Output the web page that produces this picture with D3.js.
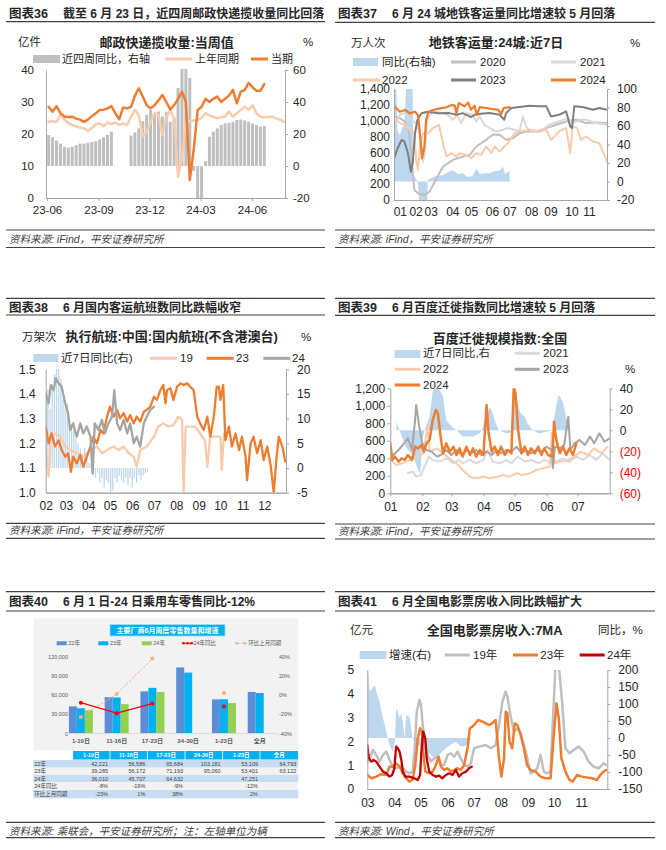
<!DOCTYPE html>
<html><head><meta charset="utf-8">
<script src="https://cdn.jsdelivr.net/npm/d3@7/dist/d3.min.js"></script>
<style>html,body{margin:0;padding:0;background:#fff;}</style>
</head><body>
<script>
// ================= DATA =================
// --- 图表36 邮政快递揽收量 (weekly, from 2023-06-04) ---
const p36Start = '2023-06-04';
const p36Bars = [19.4,18,16,14,12,11.5,12,13,14,14,14.5,15,15.5,16.6,18,19.4,21.5,null,null,null,null,19,21,23.5,28,32,35,33,34,31,34,27.7,30,48.7,62,62,55,-3,-22,-22,3,18.3,21.5,23.5,25.6,26.7,27,27.7,28.8,29,28.5,27.7,26.5,25.6,24.6,25];
const p36Current = [28.5,27,28.7,26.5,25.5,25.3,25.4,24.8,24.5,23.8,24.5,25.5,26.5,27.5,27.6,28,28.7,26.5,24.6,28.3,28,28.5,32,34.3,31.7,29,28,29,30.5,32.2,30,27.7,29,31,33.2,30,5.6,15,27.5,28.5,31,30,31,31.7,30,31,32,33.8,29.6,33.2,33.7,36,34.6,33.5,33.5,35.6];
const p36LastYear = [23.8,24,23.8,26,24.5,23.5,22.8,22.4,22,21.8,21,21.8,23.1,23.3,22.5,23.6,23.1,23.6,22.8,23.3,22.8,25.4,27.5,25.9,19.2,20.7,23.8,26.5,26,19.7,24.9,27.5,24.9,6.7,12.9,23.8,24,24.2,24.4,25,26.5,25.8,25.4,24.9,25.2,25.4,27,25.4,26.5,27.5,28.5,27.5,29,26.5,25.4,25.2,25.4,25.4,24.9,24.5,23.8];
const p36TickDates = ['2023-06-01','2023-09-01','2023-12-01','2024-03-01','2024-06-01'];
const p36TickLabels = ['23-06','23-09','23-12','24-03','24-06'];
const p36LeftTicks = [0,10,20,30,40];
const p36RightTicks = [-20,0,20,40,60];

// --- 图表37 地铁客运量 ([day of year, 万人次]) ---
const p37YoY = [[0,100],[2,112],[4,100],[6,55],[10,50],[14,58],[18,62],[21,105],[26,112],[32,108],[33,8],[37,3],[41,0],[43,-25],[50,-28],[57,-22],[58,2],[62,3],[67,5],[74,6],[84,7],[92,10],[101,12],[110,8],[118,9],[126,5],[135,6],[141,14],[147,8],[155,9],[164,9],[172,11],[181,12],[187,16],[190,8],[195,10],[198,12]];
const p37Y2020 = [[0,1054],[10,1033],[18,991],[26,843],[31,422],[35,127],[41,84],[52,63],[61,105],[70,232],[84,422],[101,506],[118,548],[130,569],[141,675],[158,759],[169,822],[181,822],[192,759],[204,780],[215,843],[226,864],[244,864],[261,907],[278,949],[295,991],[312,1012],[329,970],[346,978],[365,970]];
const p37Y2021 = [[0,970],[5,1009],[10,1075],[18,1096],[25,1040],[32,1000],[40,950],[45,800],[50,480],[53,600],[57,1000],[61,1075],[67,1117],[84,1096],[92,1075],[101,1012],[108,1075],[115,970],[124,1096],[135,1075],[141,991],[147,1054],[155,949],[164,907],[175,864],[187,886],[195,907],[207,886],[215,864],[221,1054],[226,928],[235,864],[249,864],[266,949],[283,991],[298,1033],[306,970],[318,1012],[329,1012],[346,970],[365,949]];
const p37Y2022 = [[0,1033],[10,970],[18,949],[27,886],[35,843],[38,506],[41,380],[45,717],[50,843],[58,843],[67,907],[77,949],[84,717],[90,548],[98,590],[107,548],[112,590],[124,569],[132,527],[141,590],[149,569],[158,675],[167,590],[172,675],[181,611],[189,675],[195,717],[207,843],[215,864],[232,886],[249,864],[261,886],[269,759],[275,801],[283,864],[295,907],[302,590],[306,928],[314,907],[320,759],[329,801],[341,738],[352,717],[359,590],[365,485]];
const p37Y2023 = [[0,520],[6,650],[13,757],[18,735],[24,589],[29,357],[32,463],[36,841],[40,1009],[47,1093],[58,1113],[75,1093],[95,1096],[107,1075],[118,1096],[132,1046],[138,1075],[149,1088],[164,1096],[181,1075],[189,1012],[192,1096],[201,1160],[215,1172],[232,1189],[249,1181],[261,1181],[269,1054],[283,1075],[295,1117],[302,928],[305,907],[309,1181],[323,1172],[341,1139],[352,1160],[365,1139]];
const p37Y2024 = [[0,1190],[5,1150],[10,1113],[19,1135],[27,1093],[36,1113],[41,1072],[44,883],[48,526],[52,672],[55,1009],[59,1113],[67,1135],[79,1156],[90,1169],[100,1200],[104,1190],[107,1096],[111,1223],[121,1181],[127,1231],[132,1139],[138,1189],[142,1075],[147,1172],[158,1160],[169,1147],[178,1139],[184,1088],[188,1160],[198,1172]];
const p37TickDays = [10,37,63,100,132,168,198,235,268,304,334];
const p37TickLabels = ['01','02','03','04','05','06','07','08','09','10','11'];
const p37LeftTicks = [0,200,400,600,800,1000,1200,1400];
const p37RightTicks = [-20,0,20,40,60,80,100];

// --- 图表38 执行航班 ([days from Feb 1, 万架次]) ---
const p38YoY = [14,16,12,17,19,22,21,18,14,12,13,10,8,9,6,5,4,3,4,2,1,0.5,-1.5,-2,-1,-3,-2,-4,-2.5,-3,-5,-4.5,-2,-3,-1.5,-2.5,-3,-2,-3.5,-2,-4,-2,-3,-1.5,-2.5,-1.5,-1,-0.8];
const p38Y19 = [[0,1.173],[4,1.065],[7,1.227],[13,1.24],[20,1.227],[27,1.187],[34,1.173],[43,1.16],[52,1.146],[62,1.173],[71,1.187],[78,1.16],[85,1.173],[94,1.187],[101,1.173],[108,1.187],[115,1.16],[122,1.146],[126,1.105],[131,1.173],[140,1.187],[150,1.227],[156,1.268],[163,1.281],[170,1.268],[177,1.274],[184,1.308],[189,1.295],[191,1.0],[194,1.268],[200,1.268],[207,1.268],[214,1.24],[221,1.207],[224,1.105],[228,1.227],[235,1.227],[242,1.227],[244,1.092],[247,1.24]];
const p38Y23 = [[0,1.268],[4,1.2],[8,1.24],[13,1.187],[18,1.213],[22,1.173],[27,1.146],[31,1.16],[35,1.085],[38,1.146],[43,1.119],[48,1.153],[52,1.105],[57,1.146],[62,1.187],[66,1.227],[71,1.2],[76,1.254],[80,1.24],[85,1.308],[89,1.349],[94,1.308],[99,1.335],[103,1.301],[108,1.322],[113,1.288],[117,1.315],[122,1.281],[126,1.308],[131,1.288],[136,1.328],[140,1.335],[145,1.349],[150,1.389],[154,1.376],[159,1.416],[163,1.436],[166,1.362],[168,1.416],[173,1.423],[177,1.376],[182,1.43],[187,1.443],[191,1.436],[196,1.443],[200,1.43],[205,1.416],[210,1.308],[214,1.281],[219,1.254],[224,1.308],[228,1.227],[233,1.308],[237,1.43],[240,1.43],[242,1.376],[246,1.436],[249,1.213],[254,1.268],[258,1.187],[263,1.24],[268,1.173],[272,1.227],[277,1.146],[279,1.051],[284,1.2],[288,1.227],[293,1.16],[298,1.213],[302,1.132],[307,1.187],[312,1.105],[316,1.0],[320,1.146],[323,1.227],[328,1.187],[332,1.126]];
const p38Y24 = [[0,1.403],[4,1.362],[7,1.436],[11,1.416],[14,1.464],[18,1.443],[22,1.43],[27,1.362],[31,1.322],[34,1.254],[38,1.281],[43,1.227],[48,1.281],[52,1.24],[57,1.268],[62,1.227],[65,1.078],[68,1.281],[73,1.254],[78,1.295],[82,1.24],[87,1.281],[92,1.308],[95,1.416],[99,1.281],[103,1.254],[108,1.295],[113,1.24],[117,1.281],[122,1.2],[126,1.227],[131,1.187],[136,1.281],[140,1.308],[145,1.335],[150,1.349]];
const p38TickDays = [0,28,59,89,120,150,181,212,242,273,303];
const p38TickLabels = ['02','03','04','05','06','07','08','09','10','11','12'];
const p38LeftTicks = [1.0,1.1,1.2,1.3,1.4,1.5];
const p38RightTicks = [-5,0,5,10,15,20];

// --- 图表39 百度迁徙规模指数 ([day of year, index]) ---
const p39YoY = [[5.8,8],[9,0],[15,-16],[22,-25],[27,-38],[29,-42],[31,-10],[33,0],[38,13],[41,38],[44,42],[48,38],[51,32],[54,9.5],[57,6],[60,3],[64,0],[70,-6],[80,-6],[86,-3],[89,1.6],[93,13],[96,22.5],[99,16],[102,6.3],[105,0],[112,-3],[118,-1.6],[120,40],[123,26],[126,16],[130,13],[133,6],[138,0],[144,-3],[150,-1.6],[157,0],[158.5,13],[162,32],[163,33.6],[167,26],[170,13],[173,0],[181,0]];
const p39Y2021 = [[17,229],[22,248],[25,190],[30,210],[33,305],[37,419],[41,381],[48,362],[54,400],[61,343],[66,381],[70,343],[77,381],[83,343],[90,381],[94,495],[99,362],[106,343],[112,381],[117,343],[123,419],[130,362],[136,381],[143,343],[149,381],[156,343],[160,362],[167,400],[173,362],[180,419],[186,381],[193,438],[199,381],[205,457],[212,381]];
const p39Y2022 = [[0,381],[6,324],[12,343],[19,381],[25,419],[32,457],[36,762],[38,476],[45,514],[51,457],[57,400],[64,343],[70,267],[77,190],[83,171],[90,190],[96,171],[103,190],[109,210],[115,190],[122,229],[128,210],[135,229],[141,267],[148,286],[154,305],[156,686],[159,343],[165,362],[172,381],[178,419],[184,476],[191,438],[197,514],[204,457],[210,533]];
const p39Y2023 = [[3,438],[8,495],[12,552],[17,629],[21,495],[24,838],[25,1010],[28,762],[31,571],[35,495],[40,476],[45,419],[49,438],[54,495],[59,438],[64,495],[69,438],[74,495],[78,457],[83,495],[88,438],[93,476],[98,438],[103,495],[107,457],[112,495],[117,476],[122,533],[127,457],[131,495],[136,457],[141,495],[146,476],[151,533],[156,495],[157,286],[159,533],[164,514],[168,552],[172,876],[174,495],[178,571],[183,610],[188,552],[193,648],[197,571],[202,686],[207,590],[212,629]];
const p39Y2024 = [[0,571],[2,381],[4.5,419],[8,362],[11,400],[14,381],[17,438],[21,381],[24,533],[27,514],[30,552],[32.5,476],[35,571],[38,610],[41,838],[44,952],[46,914],[48.6,648],[51,457],[54,571],[57.5,476],[61,533],[64,438],[67,514],[70,419],[73.6,533],[77,438],[80,514],[83,419],[86.5,495],[90,438],[93,1010],[95,686],[98,476],[101,533],[104,438],[107,533],[110.6,438],[114,495],[117,457],[119.3,1219],[121,1143],[123.5,724],[126.7,457],[130,533],[133,438],[136,514],[139.5,457],[143,533],[146,438],[149,514],[152.4,438],[156.6,419],[158.2,819],[160.4,610],[163.7,457],[167,533],[170,438],[173,514],[176.5,438],[179.7,571]];
const p39TickDays = [0,31,59,90,120,151,181];
const p39TickLabels = ['01','02','03','04','05','06','07'];
const p39LeftTicks = [0,200,400,600,800,1000,1200];
const p39RightTicks = [-60,-40,-20,0,20,40];

// --- 图表40 乘用车零售 ---
const p40Cats = ['1-10日','11-16日','17-23日','24-30日','1-23日','全月'];
const p40Y22 = [42221,56586,65684,103181,53109,64793];
const p40Y23 = [39285,56172,71193,95060,53401,63122];
const p40Y24 = [36010,45707,64632,null,47251,null];
const p40YoY = [-8,-19,-9,null,-12,null];
const p40MoM = [-23,1,38,null,2,null];
const p40LeftTicks = [0,30000,60000,90000,120000];
const p40RightTicks = [-40,-20,0,20,40];
const p40RowLabels = ['22年','23年','24年','24年同比','环比上月同期'];

// --- 图表41 电影票房 ([days from Mar 1, 亿元]) ---
const p41YoY = [[0,200],[1,195],[2.7,136],[5.7,146],[8.4,156],[10.3,136],[14,107],[18,58],[21.7,19],[25.5,-21],[29,-40],[31.5,-11],[33,87],[35,77],[37,58],[39,72],[40.7,48],[42.6,-1],[44.5,63],[46.4,68],[49,58],[50.6,19],[52,-1],[54,-11],[57.8,-21],[60.5,-21],[63.5,-30],[67,-40],[71,-45],[75,-55],[78.7,-60],[82.5,-50],[86,-40],[90,-30],[94,-21],[97.7,-16],[101.5,-11],[105,-21],[109,-26],[113,-21],[116.7,-16],[118.6,-1]];
const p41Y19 = [[0,1.1],[2.7,1.29],[6.5,1.64],[10.3,1.43],[14,1.15],[18,1.43],[21.7,1.57],[25.5,1.22],[29,0.94],[33,0.87],[37,0.94],[40.7,0.87],[44.5,0.73],[48.3,0.66],[52,0.73],[54,1.57],[56.7,3.25],[59.7,3.74],[61.6,3.53],[63.5,2.69],[66.5,1.85],[69,1.43],[73,1.15],[76.8,1.29],[80.6,1.36],[84.4,1.01],[88,1.01],[92,1.43],[95.8,1.5],[99.6,1.36],[103.4,1.57],[107,1.29],[111,1.01],[114.8,0.94],[118.6,1.08],[122.4,1.71],[128,1.78],[135.7,1.85],[141.4,1.71],[147,1.85],[151,2.69],[154.8,3.67],[158.6,4.09],[160.5,3.88],[164.3,3.04],[168,2.41],[171.9,2.55],[175.7,2.34],[179.5,1.85],[183.3,1.29],[187,0.66],[190.9,0.73],[194.7,0.87],[198.5,1.43],[202.3,0.73],[206,0.66],[209.9,0.73],[213.7,3.67],[215.6,5.2],[219.4,5.2],[223.2,3.67],[227,1.71],[231.6,1.5],[236.5,1.64],[242.2,1.78],[247.9,1.57],[253.6,1.15],[259.3,0.94],[265,0.87],[270.7,1.08],[273.8,1.01]];
const p41Y23 = [[0,0.59],[4.6,0.45],[10.3,0.52],[16,0.62],[21.7,0.59],[25.5,0.94],[29,0.94],[33,1.08],[37,0.94],[40.7,0.66],[44.5,0.45],[48.3,0.31],[52,0.38],[55,1.01],[57.8,2.13],[60.5,2.55],[62.7,2.41],[64,1.57],[66.5,0.73],[71,0.66],[75,0.73],[78.7,1.01],[81.7,1.36],[84.4,0.94],[88,0.8],[92,0.87],[95.8,0.73],[99.6,0.8],[103,0.87],[107,0.8],[111,1.01],[114.8,1.71],[117.5,2.55],[120.5,2.62],[124,2.76],[127,2.9],[132,2.83],[135.7,2.76],[139.5,2.69],[143,2.76],[147,2.9],[151,1.29],[153.6,0.52],[156.7,1.29],[158.6,3.25],[160.5,3.18],[163,1.99],[166,1.71],[169,2.76],[172,2.69],[175.7,2.27],[179.5,1.71],[183,1.01],[187,0.8],[192.8,0.73],[198.5,0.52],[204,0.45],[210,0.45],[213.7,2.27],[216.8,3.6],[219.4,2.97],[222.4,1.29],[227,0.73],[231.6,0.38],[235.4,0.31],[240.3,0.59],[246,0.52],[251.7,0.48],[257.4,0.45],[263,0.38],[267,0.59],[270.7,0.73],[273.8,0.8]];
const p41Y24 = [[0,1.85],[1.9,1.29],[4.6,1.15],[7.2,1.22],[10.3,1.15],[14,0.94],[18,0.73],[21.7,0.66],[25.5,0.52],[28.5,0.59],[31,0.87],[33,1.78],[35,1.71],[37,1.57],[39,1.22],[40.7,0.73],[43.7,0.52],[48.3,0.52],[54,0.45],[57.8,0.38],[60.5,0.59],[62,1.57],[64,2.41],[66.5,2.13],[68,1.29],[71,0.73],[75,0.59],[78.7,0.52],[82.5,0.56],[86,0.45],[90,0.59],[94,0.66],[97.7,0.59],[101.5,0.8],[105,0.52],[109,0.66],[113,0.73],[116.7,0.87],[119.7,0.94]];
const p41TickDays = [0,31,61,92,122,153,184,214,245];
const p41TickLabels = ['03','04','05','06','07','08','09','10','11'];
const p41LeftTicks = [0,1,2,3,4,5];
const p41RightTicks = [-150,-100,-50,0,50,100,150,200];

// ================= DRAWING =================
const FONT = '"Liberation Sans", Arial, "Noto Sans CJK SC", sans-serif';
const AX = '#A6A6A6', TXT = '#262626', HL = '#404040';
const C_OR = '#ED7D31', C_LOR = '#F8CBAD', C_BLUE = '#BDD7EE';

const svg = d3.select('body').append('svg').attr('width', 666).attr('height', 850)
  .attr('font-family', FONT);
svg.append('rect').attr('width', 666).attr('height', 850).attr('fill', '#fff');
const defs = svg.append('defs');
let clipN = 0;
function clip(L, T, R, B) {
  const id = 'cp' + (clipN++);
  defs.append('clipPath').attr('id', id).append('rect')
    .attr('x', L).attr('y', T).attr('width', R - L).attr('height', B - T);
  return `url(#${id})`;
}
function T(x, y, s, o = {}) {
  return svg.append('text').attr('x', x).attr('y', y).attr('dy', '0.35em')
    .attr('font-size', o.size || 12).attr('font-weight', o.bold ? 'bold' : null)
    .attr('font-style', o.italic ? 'italic' : null)
    .attr('text-anchor', o.anchor || 'start').attr('fill', o.fill || TXT).text(s);
}
function hline(x0, x1, y, w) {
  svg.append('line').attr('x1', x0).attr('x2', x1).attr('y1', y).attr('y2', y)
    .attr('stroke', HL).attr('stroke-width', w || 1.2);
}
function header(x0, x1, yTop, yText, yBot, num, title) {
  if (yTop != null) hline(x0, x1, yTop);
  hline(x0, x1, yBot);
  T(x0 + 3, yText, num, { size: 12.5, bold: true });
  T(x0 + 57, yText, title, { size: 12, bold: true });
}
function source(x0, x1, yTop, yText, yBot, s) {
  hline(x0, x1, yTop); hline(x0, x1, yBot);
  T(x0 + 3, yText, s, { size: 10.5, italic: true, fill: HL });
}
function legRect(x, y, w, color) {
  svg.append('rect').attr('x', x).attr('y', y - 4).attr('width', w).attr('height', 8).attr('fill', color);
}
function legLine(x, y, w, color, sw) {
  svg.append('line').attr('x1', x).attr('x2', x + w).attr('y1', y).attr('y2', y)
    .attr('stroke', color).attr('stroke-width', sw || 3);
}
function drawAxes(p) {
  const gL = svg.append('g').attr('transform', `translate(${p.L},0)`)
    .call(d3.axisLeft(p.yL).tickValues(p.lt).tickFormat(p.lf || (d => d)).tickSize(p.lts || 0).tickSizeOuter(0).tickPadding(p.lp));
  const gR = svg.append('g').attr('transform', `translate(${p.R},0)`)
    .call(d3.axisRight(p.yR).tickValues(p.rt).tickFormat(p.rf || (d => d)).tickSize(p.rts == null ? 3 : p.rts).tickSizeOuter(0).tickPadding(p.rp));
  const gB = svg.append('g').attr('transform', `translate(0,${p.B})`)
    .call(d3.axisBottom(p.x).tickValues(p.xt).tickFormat((d, i) => p.xl[i]).tickSize(p.bts || 0).tickSizeOuter(0).tickPadding(p.bp));
  [gL, gR, gB].forEach(g => {
    g.attr('font-family', FONT).attr('font-size', p.fs || 12);
    g.select('.domain').attr('stroke', AX).attr('stroke-width', 1);
    g.selectAll('.tick line').attr('stroke', AX);
    g.selectAll('.tick text').attr('fill', TXT);
  });
  if (p.rc) gR.selectAll('.tick text').attr('fill', d => p.rc(d));
  svg.append('line').attr('x1', p.L).attr('x2', p.R).attr('y1', p.B + 0.5).attr('y2', p.B + 0.5).attr('stroke', AX);
}
function pathLine(g, data, x, y, color, w) {
  g.append('path').datum(data)
    .attr('d', d3.line().x(d => x(d[0])).y(d => y(d[1])))
    .attr('fill', 'none').attr('stroke', color).attr('stroke-width', w)
    .attr('stroke-linejoin', 'round').attr('stroke-linecap', 'round');
}
function pathArea(g, data, x, y, color) {
  g.append('path').datum(data)
    .attr('d', d3.area().x(d => x(d[0])).y0(y(0)).y1(d => y(d[1])))
    .attr('fill', color);
}

// ---------- Headers and sources ----------
header(6, 325, null, 14, 21.7, '图表36', '截至 6 月 23 日，近四周邮政快递揽收量同比回落');
header(335, 655, null, 14, 22.3, '图表37', '6 月 24 城地铁客运量同比增速较 5 月回落');
header(6, 325, 298.3, 307.3, 315, '图表38', '6 月国内客运航班数同比跌幅收窄');
header(335, 655, 298.3, 307.3, 315.3, '图表39', '6 月百度迁徙指数同比增速较 5 月回落');
header(6, 325, 591.7, 601.7, 611, '图表40', '6 月 1 日-24 日乘用车零售同比-12%');
header(335, 655, 591.7, 601.7, 611, '图表41', '6 月全国电影票房收入同比跌幅扩大');
source(6, 325, 230, 239, 247.5, '资料来源: iFind，平安证券研究所');
source(335, 655, 230, 239, 247.5, '资料来源: iFind，平安证券研究所');
source(6, 325, 523.3, 530.7, 538.3, '资料来源: iFind，平安证券研究所');
source(335, 655, 524, 531.5, 539, '资料来源: iFind，平安证券研究所');
source(6, 325, 822.3, 831, 837.7, '资料来源: 乘联会，平安证券研究所；注：左轴单位为辆');
source(335, 655, 822.3, 831, 837.7, '资料来源: Wind，平安证券研究所');

// ---------- 图表36 ----------
(function () {
  const L = 46, R = 285, T0 = 70, B = 198;
  const pd = d3.timeParse('%Y-%m-%d');
  const x = d3.scaleTime().domain([pd('2023-06-01'), pd('2024-07-30')]).range([47, 285]);
  const yL = d3.scaleLinear().domain([0, 40]).range([B, T0]);
  const yR = d3.scaleLinear().domain([-20, 60]).range([B, T0]);
  const start = pd(p36Start);
  const wd = i => d3.timeDay.offset(start, 7 * i);
  T(166.7, 42, '邮政快递揽收量:当周值', { size: 13, bold: true, anchor: 'middle' });
  T(18, 42, '亿件', { size: 11.5 });
  T(303, 42, '%', { size: 11.5 });
  legRect(33, 59, 27, '#BFBFBF'); T(62, 59, '近四周同比，右轴', { size: 11 });
  legLine(165, 59, 27, C_LOR); T(195, 59, '上年同期', { size: 11 });
  legLine(251, 59, 17, C_OR); T(271, 59, '当期', { size: 11 });
  const g = svg.append('g').attr('clip-path', clip(L, T0 - 1, R, B));
  const bars = p36Bars.map((v, i) => [wd(i), v]).filter(d => d[1] != null);
  g.selectAll('rect.b').data(bars).join('rect').attr('class', 'b')
    .attr('x', d => x(d[0]) - 1.5).attr('width', 3)
    .attr('y', d => yR(Math.max(0, d[1]))).attr('height', d => Math.abs(yR(d[1]) - yR(0)))
    .attr('fill', '#BFBFBF');
  pathLine(g, p36LastYear.map((v, i) => [wd(i), v]), x, yL, C_LOR, 2.5);
  pathLine(g, p36Current.map((v, i) => [wd(i), v]), x, yL, C_OR, 2.5);
  drawAxes({ L, R, B, x, yL, yR, lt: p36LeftTicks, rt: p36RightTicks, lp: 12, rp: 5, rts: 3,
    xt: p36TickDates.map(pd), xl: p36TickLabels, bts: 3, bp: 5, fs: 11.5 });
})();

// ---------- 图表37 ----------
(function () {
  const L = 394, R = 607, T0 = 89, B = 200;
  const x = d3.scaleLinear().domain([0, 365]).range([L, R]);
  const yL = d3.scaleLinear().domain([0, 1400]).range([B, T0]);
  const yR = d3.scaleLinear().domain([-20, 100]).range([B, T0]);
  T(496, 42, '地铁客运量:24城:近7日', { size: 13, bold: true, anchor: 'middle' });
  T(351, 43, '万人次', { size: 11.5 });
  T(635, 43, '%', { size: 11.5, anchor: 'middle' });
  legRect(353, 62, 25, C_BLUE); T(382, 62, '同比(右轴)', { size: 11.5 });
  legLine(451, 62, 25, '#BFBFBF'); T(480, 62, '2020', { size: 11.5 });
  legLine(551, 62, 25, '#D9D9D9'); T(580, 62, '2021', { size: 11.5 });
  legLine(353, 80, 27, C_LOR); T(382, 80, '2022', { size: 11.5 });
  legLine(451, 80, 25, '#7F7F7F'); T(480, 80, '2023', { size: 11.5 });
  legLine(551, 80, 25, C_OR); T(580, 80, '2024', { size: 11.5 });
  const g = svg.append('g').attr('clip-path', clip(L, T0, R, B));
  pathArea(g, p37YoY, x, yR, C_BLUE);
  pathLine(g, p37Y2020, x, yL, '#BFBFBF', 2);
  pathLine(g, p37Y2021, x, yL, '#D9D9D9', 2);
  pathLine(g, p37Y2022, x, yL, C_LOR, 2);
  pathLine(g, p37Y2023, x, yL, '#7F7F7F', 2);
  pathLine(g, p37Y2024, x, yL, C_OR, 2.2);
  drawAxes({ L, R, B, x, yL, yR, lt: p37LeftTicks, lf: d3.format(','), rt: p37RightTicks, lp: 4, rp: 7, rts: 3,
    xt: p37TickDays, xl: p37TickLabels, bts: 0, bp: 7, fs: 12 });
})();

// ---------- 图表38 ----------
(function () {
  const L = 45.7, R = 286, T0 = 369.3, B = 492.7;
  const x = d3.scaleLinear().domain([0, 333]).range([L, R]);
  const yL = d3.scaleLinear().domain([1.0, 1.5]).range([B, T0]);
  const yR = d3.scaleLinear().domain([-5, 20]).range([B, T0]);
  T(171.7, 336.7, '执行航班:中国:国内航班(不含港澳台)', { size: 13, bold: true, anchor: 'middle' });
  T(22, 336.7, '万架次', { size: 11.5 });
  T(306, 336.7, '%', { size: 11.5, anchor: 'middle' });
  legRect(33.3, 358, 25, C_BLUE); T(61, 358.3, '近7日同比(右)', { size: 11.5 });
  legLine(150, 358.3, 27, C_LOR); T(180, 358.3, '19', { size: 11.5 });
  legLine(206.7, 358.3, 27, C_OR); T(236, 358.3, '23', { size: 11.5 });
  legLine(263.3, 358.3, 27, '#A5A5A5'); T(292, 358.3, '24', { size: 11.5 });
  const g = svg.append('g').attr('clip-path', clip(L, T0, R, B));
  g.selectAll('rect.b').data(p38YoY.map((v, i) => [i * 3, v])).join('rect').attr('class', 'b')
    .attr('x', d => x(d[0]) - 0.65).attr('width', 1.3)
    .attr('y', d => yR(Math.max(0, d[1]))).attr('height', d => Math.abs(yR(d[1]) - yR(0)))
    .attr('fill', C_BLUE);
  pathLine(g, p38Y19, x, yL, C_LOR, 2.3);
  pathLine(g, p38Y23, x, yL, C_OR, 2.3);
  pathLine(g, p38Y24, x, yL, '#A5A5A5', 2.3);
  drawAxes({ L, R, B, x, yL, yR, lt: p38LeftTicks, lf: d3.format('.1f'), rt: p38RightTicks, lp: 10, rp: 8, rts: 3,
    xt: p38TickDays, xl: p38TickLabels, bts: 0, bp: 9, fs: 12 });
})();

// ---------- 图表39 ----------
(function () {
  const L = 390.3, R = 609.7, T0 = 388.3, B = 493.3;
  const x = d3.scaleLinear().domain([0, 212]).range([L, R]);
  const yL = d3.scaleLinear().domain([0, 1200]).range([B, T0]);
  const yR = d3.scaleLinear().domain([-60, 40]).range([B, T0]);
  T(500, 338.3, '百度迁徙规模指数:全国', { size: 13, bold: true, anchor: 'middle' });
  T(630, 369.3, '%', { size: 11.5, anchor: 'middle' });
  legRect(394.7, 354, 25.6, C_BLUE); T(423, 353.3, '近7日同比,右', { size: 11.5 });
  legLine(514.7, 353.3, 25, '#D9D9D9'); T(543, 353.3, '2021', { size: 11.5 });
  legLine(394.7, 369.3, 25.6, C_LOR); T(423, 369.3, '2022', { size: 11.5 });
  legLine(514.7, 369.3, 25, '#A5A5A5'); T(543, 369.3, '2023', { size: 11.5 });
  legLine(394.7, 385, 25.6, C_OR); T(423, 385, '2024', { size: 11.5 });
  const g = svg.append('g').attr('clip-path', clip(L, T0, R, B));
  pathArea(g, p39YoY, x, yR, C_BLUE);
  pathLine(g, p39Y2021, x, yL, '#D9D9D9', 2);
  pathLine(g, p39Y2022, x, yL, C_LOR, 2);
  pathLine(g, p39Y2023, x, yL, '#A5A5A5', 2);
  pathLine(g, p39Y2024, x, yL, C_OR, 2.5);
  drawAxes({ L, R, B, x, yL, yR, lt: p39LeftTicks, lf: d3.format(','), lts: 3, rt: p39RightTicks,
    rf: d => d < 0 ? `(${-d})` : d, rc: d => d < 0 ? '#FF0000' : TXT, lp: 2, rp: 7, rts: 3,
    xt: p39TickDays, xl: p39TickLabels, bts: 3, bp: 6, fs: 12 });
})();

// ---------- 图表40 ----------
(function () {
  svg.append('rect').attr('x', 33.3).attr('y', 618.3).attr('width', 265).attr('height', 132).attr('fill', '#F2F2F2');
  svg.append('rect').attr('x', 110).attr('y', 624.5).attr('width', 115).attr('height', 11.5).attr('fill', '#00B0F0')
    .attr('stroke', '#9DDCF7').attr('stroke-width', 0.8);
  T(167.5, 630.3, '主要厂商6月周度零售数量和增速', { size: 7, bold: true, anchor: 'middle', fill: '#fff' });
  const c22 = '#5B8ED6', c23 = '#00B0F0', c24 = '#92D050', cYoY = '#FF0000', cMoM = '#F4B183';
  const ly = 643.3, ls = 5.5, lf = '#595959';
  svg.append('rect').attr('x', 56.7).attr('y', ly - 2).attr('width', 10).attr('height', 4).attr('fill', c22);
  T(68.3, ly, '22年', { size: ls, fill: lf });
  svg.append('rect').attr('x', 98.3).attr('y', ly - 2).attr('width', 10).attr('height', 4).attr('fill', c23);
  T(110, ly, '23年', { size: ls, fill: lf });
  svg.append('rect').attr('x', 141.7).attr('y', ly - 2).attr('width', 10).attr('height', 4).attr('fill', c24);
  T(153.3, ly, '24年', { size: ls, fill: lf });
  legLine(181.7, ly, 11.6, cYoY, 1);
  [183.5, 187.5, 191.5].forEach(cx => svg.append('circle').attr('cx', cx).attr('cy', ly).attr('r', 1.3).attr('fill', cYoY));
  T(193.5, ly, '24年同比', { size: ls, fill: lf });
  svg.append('line').attr('x1', 235).attr('x2', 246.7).attr('y1', ly).attr('y2', ly).attr('stroke', cMoM).attr('stroke-dasharray', '2,1.5');
  [237, 244.7].forEach(cx => svg.append('circle').attr('cx', cx).attr('cy', ly).attr('r', 1.3).attr('fill', cMoM));
  T(248.3, ly, '环比上月同期', { size: ls, fill: lf });

  const x = d3.scaleBand().domain(p40Cats).range([63, 277.6]);
  const yL = d3.scaleLinear().domain([0, 120000]).range([733.3, 656.7]);
  const yR = d3.scaleLinear().domain([-40, 40]).range([733.3, 656.7]);
  const cx = c => x(c) + x.bandwidth() / 2;
  const series = [[p40Y22, c22, -12], [p40Y23, c23, -4], [p40Y24, c24, 4]];
  series.forEach(([vals, col, off]) => {
    svg.append('g').selectAll('rect').data(p40Cats.map((c, i) => [c, vals[i]]).filter(d => d[1] != null))
      .join('rect').attr('x', d => cx(d[0]) + off).attr('width', 8)
      .attr('y', d => yL(d[1])).attr('height', d => yL(0) - yL(d[1])).attr('fill', col);
  });
  const lineOf = vals => p40Cats.slice(0, 3).map((c, i) => [cx(c), yR(vals[i])]);
  svg.append('path').datum(lineOf(p40MoM)).attr('d', d3.line()).attr('fill', 'none').attr('stroke', cMoM)
    .attr('stroke-width', 1).attr('stroke-dasharray', '2.5,1.5');
  svg.append('path').datum(lineOf(p40YoY)).attr('d', d3.line()).attr('fill', 'none').attr('stroke', cYoY).attr('stroke-width', 1.2);
  p40Cats.forEach((c, i) => {
    if (p40MoM[i] != null) svg.append('circle').attr('cx', cx(c)).attr('cy', yR(p40MoM[i])).attr('r', 2).attr('fill', cMoM);
    if (p40YoY[i] != null) svg.append('circle').attr('cx', cx(c)).attr('cy', yR(p40YoY[i])).attr('r', 2).attr('fill', cYoY);
  });
  const gl = svg.append('g').attr('transform', 'translate(68,0)')
    .call(d3.axisLeft(yL).tickValues(p40LeftTicks).tickFormat(d3.format(',')).tickSize(0).tickPadding(0));
  const gr = svg.append('g').attr('transform', 'translate(279,0)')
    .call(d3.axisRight(yR).tickValues(p40RightTicks).tickFormat(d => d + '%').tickSize(0).tickPadding(0));
  const gb = svg.append('g').attr('transform', 'translate(0,733.3)')
    .call(d3.axisBottom(x).tickSize(0).tickPadding(5));
  [gl, gr, gb].forEach(g => { g.attr('font-family', FONT).attr('font-size', 5.5); g.select('.domain').remove(); g.selectAll('.tick text').attr('fill', lf); });
  svg.append('line').attr('x1', 63).attr('x2', 277.6).attr('y1', 733.6).attr('y2', 733.6).attr('stroke', '#D9D9D9');
  gb.attr('font-size', 6).attr('font-weight', 'bold');
  const cols = [33.3, 72.7, 110, 147.3, 185, 222.7, 260, 298.3];
  const rows = [751, 760, 767.7, 775, 782.3, 790, 798.3];
  const fillRow = ['#C9DDF2', '#F2F2F2', '#C9DDF2', '#F2F2F2', '#C9DDF2'];
  for (let j = 0; j < 6; j++) {
    svg.append('rect').attr('x', cols[j + 1] + 0.4).attr('y', rows[0]).attr('width', cols[j + 2] - cols[j + 1] - 0.8)
      .attr('height', rows[1] - rows[0] - 0.5).attr('fill', '#00B0F0');
    T((cols[j + 1] + cols[j + 2]) / 2, (rows[0] + rows[1]) / 2, p40Cats[j], { size: 5.5, bold: true, anchor: 'middle', fill: '#fff' });
  }
  const tbl = [p40Y22.map(d3.format(',')), p40Y23.map(d3.format(',')),
    p40Y24.map(v => v == null ? '' : d3.format(',')(v)),
    p40YoY.map(v => v == null ? '' : v + '%'), p40MoM.map(v => v == null ? '' : v + '%')];
  tbl.forEach((r, i) => {
    svg.append('rect').attr('x', cols[0]).attr('y', rows[i + 1]).attr('width', cols[7] - cols[0])
      .attr('height', rows[i + 2] - rows[i + 1]).attr('fill', fillRow[i]);
    T(cols[0] + 1, (rows[i + 1] + rows[i + 2]) / 2, p40RowLabels[i], { size: 5.5, fill: '#404040' });
    r.forEach((s, j) => T(cols[j + 2] - 2, (rows[i + 1] + rows[i + 2]) / 2, s, { size: 5.5, anchor: 'end', fill: '#404040' }));
  });
})();

// ---------- 图表41 ----------
(function () {
  const L = 367.3, R = 607.3, T0 = 670, B = 789;
  const x = d3.scaleLinear().domain([0, 275]).range([L, R]);
  const yL = d3.scaleLinear().domain([0, 5]).range([B, T0]);
  const yR = d3.scaleLinear().domain([-150, 200]).range([B, T0]);
  T(494.7, 630, '全国电影票房收入:7MA', { size: 13, bold: true, anchor: 'middle' });
  T(350, 630, '亿元', { size: 11.5 });
  T(598, 630, '同比，%', { size: 11.5 });
  legRect(359.7, 655, 26.6, C_BLUE); T(389, 655, '增速(右)', { size: 11.5 });
  legLine(444.7, 655, 25, '#BFBFBF'); T(473, 655, '19年', { size: 11.5 });
  legLine(513, 655, 25, C_OR); T(540.3, 655, '23年', { size: 11.5 });
  legLine(579.7, 655, 25, '#C00000'); T(607, 655, '24年', { size: 11.5 });
  const g = svg.append('g').attr('clip-path', clip(L, T0, R, B));
  pathArea(g, p41YoY, x, yR, C_BLUE);
  pathLine(g, p41Y19, x, yL, '#BFBFBF', 2.5);
  pathLine(g, p41Y23, x, yL, C_OR, 2.5);
  pathLine(g, p41Y24, x, yL, '#C00000', 2.3);
  drawAxes({ L, R, B, x, yL, yR, lt: p41LeftTicks, rt: p41RightTicks, lp: 13, rp: 8, rts: 3,
    xt: p41TickDays, xl: p41TickLabels, bts: 0, bp: 9, fs: 12 });
})();
</script>
</body></html>
